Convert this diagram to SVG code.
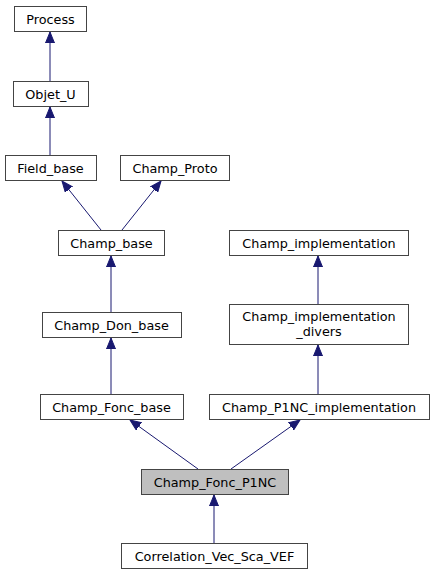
<svg xmlns="http://www.w3.org/2000/svg" width="435" height="575" viewBox="0 0 435 575">
<style>
.n rect{fill:#fff;stroke:#444;stroke-width:1}
.n text{font-family:"DejaVu Sans",sans-serif;font-size:12.8px;text-anchor:middle;fill:#000}
.e path{fill:none;stroke:#191970;stroke-width:1}
</style>
<defs>
<marker id="a" markerUnits="userSpaceOnUse" markerWidth="12" markerHeight="10" refX="11" refY="5" orient="auto">
<path d="M0,0.5 L11,5 L0,9.5 Z" fill="#191970" stroke="#191970"/>
</marker>
</defs>
<rect width="435" height="575" fill="#fff"/>
<g class="e">
<path d="M50,81 V32" marker-end="url(#a)"/>
<path d="M50,155 V107" marker-end="url(#a)"/>
<path d="M101,230 L62,181" marker-end="url(#a)"/>
<path d="M122,230 L161,181" marker-end="url(#a)"/>
<path d="M111,312 V256" marker-end="url(#a)"/>
<path d="M111,394 V338" marker-end="url(#a)"/>
<path d="M198,469 L130,420" marker-end="url(#a)"/>
<path d="M231,469 L300,420" marker-end="url(#a)"/>
<path d="M214,543 V495" marker-end="url(#a)"/>
<path d="M318,394 V345" marker-end="url(#a)"/>
<path d="M318,304 V256" marker-end="url(#a)"/>
</g>
<g id="Process" class="n"><rect x="14.5" y="6.5" width="72" height="25"/><text x="50.5" y="23.5">Process</text></g>
<g id="Objet_U" class="n"><rect x="13.5" y="81.5" width="75" height="25"/><text x="50.5" y="98.5">Objet_U</text></g>
<g id="Field_base" class="n"><rect x="5.5" y="155.5" width="91" height="25"/><text x="50.5" y="172.5">Field_base</text></g>
<g id="Champ_Proto" class="n"><rect x="120.5" y="155.5" width="109" height="25"/><text x="175" y="172.5">Champ_Proto</text></g>
<g id="Champ_base" class="n"><rect x="58.5" y="230.5" width="106" height="25"/><text x="111.5" y="247.5">Champ_base</text></g>
<g id="Champ_implementation" class="n"><rect x="229.5" y="230.5" width="179" height="25"/><text x="319" y="247.5">Champ_implementation</text></g>
<g id="Champ_implementation_divers" class="n"><rect x="229.5" y="304.5" width="179" height="40"/><text x="319" y="320.5">Champ_implementation</text><text x="319" y="335.5">_divers</text></g>
<g id="Champ_Don_base" class="n"><rect x="42.5" y="312.5" width="139" height="25"/><text x="111.5" y="329.5">Champ_Don_base</text></g>
<g id="Champ_Fonc_base" class="n"><rect x="40.5" y="394.5" width="143" height="25"/><text x="111.5" y="411.5">Champ_Fonc_base</text></g>
<g id="Champ_P1NC_implementation" class="n"><rect x="209.5" y="394.5" width="220" height="25"/><text x="319" y="411.5">Champ_P1NC_implementation</text></g>
<g id="Champ_Fonc_P1NC" class="n"><rect x="141.5" y="469.5" width="147" height="25" style="fill:#bfbfbf"/><text x="215" y="486.5">Champ_Fonc_P1NC</text></g>
<g id="Correlation_Vec_Sca_VEF" class="n"><rect x="121.5" y="543.5" width="186" height="25"/><text x="214.5" y="560.5">Correlation_Vec_Sca_VEF</text></g>
</svg>
